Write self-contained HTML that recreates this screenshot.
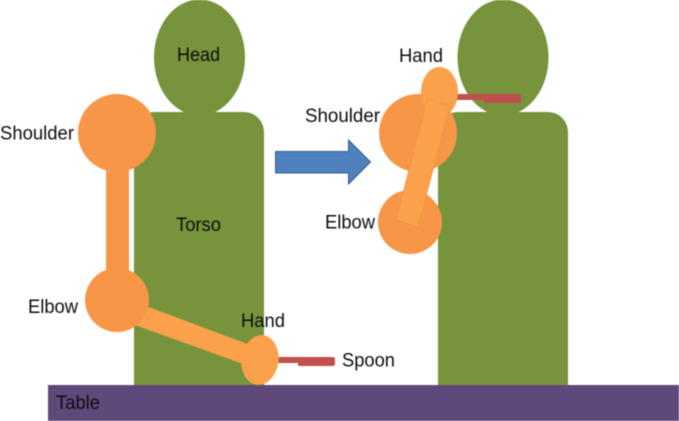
<!DOCTYPE html>
<html>
<head>
<meta charset="utf-8">
<style>
html,body{margin:0;padding:0;background:#fff;width:679px;height:421px;overflow:hidden}
svg{display:block;filter:blur(0.4px)}
text{font-family:"Liberation Sans",sans-serif;font-size:19px;fill:#0d0d0d}
</style>
</head>
<body>
<svg width="679" height="421" viewBox="0 0 679 421" xmlns="http://www.w3.org/2000/svg">
<rect width="679" height="421" fill="#fff"/>
<!-- left person -->
<ellipse cx="199.5" cy="57.5" rx="45.5" ry="58" fill="#77933c"/>
<path d="M134 385V132a20 20 0 0 1 20-20H244a20 20 0 0 1 20 20V385Z" fill="#77933c"/>
<rect x="106" y="165" width="23" height="110" fill="#f79646"/>
<circle cx="117" cy="133" r="39" fill="#f79646"/>
<polygon points="146,306 250,345 243,364 135,325" fill="#fba14b"/>
<circle cx="117" cy="300" r="32" fill="#f79646"/>
<path d="M277 357H332Q335 357 335 359V364Q335 366 332 366H298V363H277Z" fill="#c0504d"/>
<ellipse cx="260" cy="360" rx="18.5" ry="25" transform="rotate(8 260 360)" fill="#fba14b"/>
<!-- table -->
<rect x="48" y="385" width="631" height="36" fill="#5f497a"/>
<!-- arrow -->
<polygon points="275.5,151.5 348.5,151.5 348.5,140 370.5,162 348.5,184 348.5,173 275.5,173" fill="#4f81bd" stroke="#385d8a" stroke-width="1"/>
<!-- right person -->
<ellipse cx="503" cy="57.5" rx="45.5" ry="58" fill="#77933c"/>
<path d="M438 385V132a20 20 0 0 1 20-20H548a20 20 0 0 1 20 20V385Z" fill="#77933c"/>
<circle cx="418" cy="133" r="39" fill="#f79646"/>
<circle cx="410" cy="222" r="32" fill="#f79646"/>
<path d="M455 94H519Q521 94 521 96V101Q521 103 519 103H484V100H455Z" fill="#c0504d"/>
<ellipse cx="439.5" cy="92" rx="18.5" ry="25" fill="#fba14b"/>
<polygon points="427,99 450,106 418,227 396,220" fill="#fba14b" stroke="#ec8f40" stroke-width="0.6"/>
<!-- labels -->
<text x="177" y="61" textLength="43" lengthAdjust="spacingAndGlyphs">Head</text>
<text x="0" y="139.5" textLength="74" lengthAdjust="spacingAndGlyphs">Shoulder</text>
<text x="176" y="231" textLength="45" lengthAdjust="spacingAndGlyphs">Torso</text>
<text x="28" y="313" textLength="50" lengthAdjust="spacingAndGlyphs">Elbow</text>
<text x="241" y="327" textLength="44" lengthAdjust="spacingAndGlyphs">Hand</text>
<text x="342" y="366.5" textLength="53" lengthAdjust="spacingAndGlyphs">Spoon</text>
<text x="56" y="409" textLength="44" lengthAdjust="spacingAndGlyphs">Table</text>
<text x="399" y="62" textLength="44" lengthAdjust="spacingAndGlyphs">Hand</text>
<text x="305" y="122" textLength="75" lengthAdjust="spacingAndGlyphs">Shoulder</text>
<text x="325" y="228.5" textLength="50" lengthAdjust="spacingAndGlyphs">Elbow</text>
</svg>
</body>
</html>
